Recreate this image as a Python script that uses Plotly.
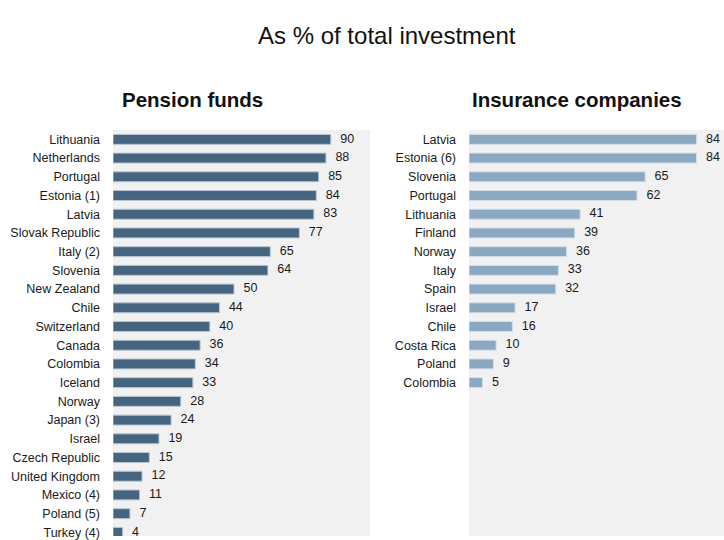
import plotly.graph_objects as go

pension_countries = ["Lithuania", "Netherlands", "Portugal", "Estonia (1)", "Latvia",
                     "Slovak Republic", "Italy (2)", "Slovenia", "New Zealand", "Chile",
                     "Switzerland", "Canada", "Colombia", "Iceland", "Norway", "Japan (3)",
                     "Israel", "Czech Republic", "United Kingdom", "Mexico (4)", "Poland (5)",
                     "Turkey (4)"]
pension_values = [90, 88, 85, 84, 83, 77, 65, 64, 50, 44, 40, 36, 34, 33, 28, 24, 19, 15, 12, 11, 7, 4]

insurance_countries = ["Latvia", "Estonia (6)", "Slovenia", "Portugal", "Lithuania", "Finland",
                       "Norway", "Italy", "Spain", "Israel", "Chile", "Costa Rica", "Poland",
                       "Colombia"]
insurance_values = [84, 84, 65, 62, 41, 39, 36, 33, 32, 17, 16, 10, 9, 5]

title_text = "As % of total investment"
panel_titles = ["Pension funds", "Insurance companies"]

FONT = "Liberation Sans, Arial, sans-serif"
W, H = 724, 540
PAD = "\u00a0\u00a0\u2009"

fig = go.Figure()

fig.add_trace(go.Bar(x=pension_values, y=pension_countries, orientation="h",
                     xaxis="x", yaxis="y",
                     marker=dict(color="#45647f", line=dict(color="#b8c6d2", width=1)),
                     hoverinfo="x+y"))
fig.add_trace(go.Scatter(x=pension_values, y=pension_countries, mode="text",
                         text=[PAD + str(v) for v in pension_values], textposition="middle right",
                         xaxis="x", yaxis="y", cliponaxis=False,
                         textfont=dict(family=FONT, size=12.5, color="#1a1a1a"),
                         hoverinfo="skip"))

fig.add_trace(go.Bar(x=insurance_values, y=insurance_countries, orientation="h",
                     xaxis="x2", yaxis="y2",
                     marker=dict(color="#8aa8c1", line=dict(color="#d3dde6", width=1)),
                     hoverinfo="x+y"))
fig.add_trace(go.Scatter(x=insurance_values, y=insurance_countries, mode="text",
                         text=[PAD + str(v) for v in insurance_values], textposition="middle right",
                         xaxis="x2", yaxis="y2", cliponaxis=False,
                         textfont=dict(family=FONT, size=12.5, color="#1a1a1a"),
                         hoverinfo="skip"))

top = 130
pitch = 18.9
slots = (H - top) / pitch
yrange = [slots - 0.5, -0.5]

common_x = dict(showticklabels=False, showgrid=False, zeroline=False, showline=False, fixedrange=True)
common_y = dict(type="category", showgrid=False, zeroline=False, showline=False, ticks="",
                ticklabelstandoff=12, tickfont=dict(family=FONT, size=12.5, color="#1a1a1a"),
                range=yrange)

plot_h = H - top


def py(px_from_top):
    return 1 + (top - px_from_top) / plot_h


fig.update_layout(
    width=W, height=H,
    margin=dict(l=0, r=0, t=top, b=0),
    paper_bgcolor="white", plot_bgcolor="#f1f1f1",
    showlegend=False, bargap=0.47,
    xaxis=dict(domain=[113 / W, 370 / W], range=[0, 257 / 2.42], **common_x),
    xaxis2=dict(domain=[469 / W, 1.0], range=[0, 255 / 2.71], **common_x),
    yaxis=dict(anchor="x", categoryarray=pension_countries, **common_y),
    yaxis2=dict(anchor="x2", categoryarray=insurance_countries, **common_y),
    annotations=[
        dict(text=title_text, x=387 / W, y=py(35), xref="paper", yref="paper", showarrow=False,
             font=dict(family=FONT, size=24, color="#111"), xanchor="center", yanchor="middle"),
        dict(text="<b>" + panel_titles[0] + "</b>", x=192 / W, y=py(99), xref="paper", yref="paper",
             showarrow=False, font=dict(family=FONT, size=20.5, color="#111"),
             xanchor="center", yanchor="middle"),
        dict(text="<b>" + panel_titles[1] + "</b>", x=577 / W, y=py(99), xref="paper", yref="paper",
             showarrow=False, font=dict(family=FONT, size=20.5, color="#111"),
             xanchor="center", yanchor="middle"),
    ],
)

fig.write_html("out.html")
